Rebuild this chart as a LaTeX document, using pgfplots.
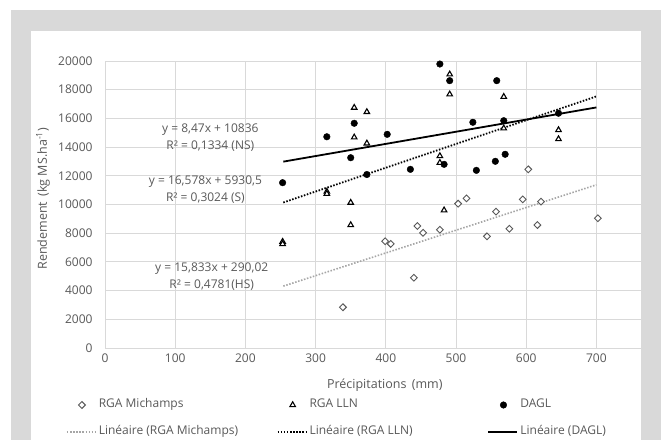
\documentclass[border=0pt]{standalone}
\usepackage{fontspec}
\setmainfont{Open Sans}
\usepackage{pgfplots}
\pgfplotsset{compat=1.18}
\definecolor{framegray}{HTML}{D9D9D9}
\definecolor{gridgray}{HTML}{D9D9D9}
\definecolor{txt}{HTML}{595959}
\definecolor{mich}{HTML}{595959}
\definecolor{michline}{HTML}{A6A6A6}

\pgfplotsset{
  mlegend/.style={legend image code/.code={\draw[mark repeat=2,mark phase=2,##1] plot coordinates {(0pt,0pt)(15pt,0pt)(29pt,0pt)};}},
  llegend/.style={legend image code/.code={\draw[##1] (0pt,0pt) -- (29pt,0pt);}},
}

\begin{document}
\begin{tikzpicture}[x=1pt,y=1pt]
\fill[framegray] (11,0) rectangle (661,430);
\fill[white] (31,0) rectangle (641,409);
\useasboundingbox (0,0) rectangle (661,440);
\begin{axis}[
  at={(105pt,92pt)}, anchor=south west,
  scale only axis, width=536pt, height=287pt,
  xmin=0, xmax=763.5, ymin=0, ymax=20000,
  xtick={0,100,...,700}, ytick={0,2000,...,20000},
  scaled y ticks=false, scaled x ticks=false,
  grid=major, major grid style={draw=gridgray, line width=0.9pt},
  axis line style={draw=none}, tick style={draw=none},
  clip=false,
  /pgf/number format/assume math mode=true,
  /pgf/number format/set thousands separator={},
  ticklabel style={font=\fontsize{12}{14}\selectfont, text=txt},
  yticklabel style={xshift=-9pt},
  xticklabel style={yshift=-2pt},
  xlabel={Précipitations\, (mm)},
  ylabel={Rendement\, (kg MS.ha\textsuperscript{-1})},
  every axis x label/.style={at={(axis description cs:0.522,0)}, anchor=center, yshift=-37pt, font=\fontsize{12.5}{14}\selectfont, text=txt},
  every axis y label/.style={at={(axis description cs:-0.1157,0.52)}, rotate=90, anchor=center, font=\fontsize{12.5}{14}\selectfont, text=txt},
  legend columns=3,
  legend cell align=left,
  legend style={at={(axis description cs:-0.0728,-0.170)}, anchor=north west,
    draw=none, fill=none, inner sep=0pt, column sep=0pt, row sep=11pt,
    font=\fontsize{12}{14}\selectfont, text=txt,
    nodes={inner sep=2pt, text height=9pt, text depth=3pt}},
]
% RGA Michamps
\addplot[only marks, mlegend, mark=square*, mark size=2.4pt,
  mark options={rotate=45, fill=white, draw=mich, line width=0.9pt}]
  coordinates {(339,2840) (399,7440) (407,7250) (440,4900) (445,8500) (453,8030)
  (477,8240) (503,10060) (515,10430) (544,7780) (557,9500) (576,8310)
  (595,10360) (603,12450) (616,8570) (621,10200) (702,9040)};
\addlegendentry{\makebox[176pt][l]{RGA Michamps}}
% RGA LLN
\addplot[only marks, mlegend, mark=triangle*, mark size=3.2pt,
  mark options={fill=white, draw=black, line width=1.1pt}]
  coordinates {(253,7410) (253,7250) (316,10900) (316,10750) (350,10130) (350,8570)
  (355,16750) (355,14680) (373,16450) (373,14260) (477,13380) (477,12910)
  (483,9600) (491,19070) (491,17680) (568,17510) (568,15310) (646,15190) (646,14560)};
\addlegendentry{\makebox[176pt][l]{RGA LLN}}
% DAGL
\addplot[only marks, mlegend, mark=*, mark size=3.3pt, mark options={fill=black, draw=black}]
  coordinates {(253,11520) (316,14720) (350,13260) (355,15660) (373,12090) (402,14890)
  (435,12450) (477,19790) (483,12800) (491,18630) (524,15730) (529,12380)
  (556,13010) (558,18630) (568,15840) (570,13500) (646,16360)};
\addlegendentry{\makebox[176pt][l]{DAGL}}
% trend lines
\addplot[llegend, michline, line width=1.6pt, dash pattern=on 1.5pt off 1.6pt]
  coordinates {(254,4312) (700,11373)};
\addlegendentry{\makebox[176pt][l]{Linéaire (RGA Michamps)}}
\addplot[llegend, black, line width=1.8pt, dash pattern=on 1.5pt off 1.6pt]
  coordinates {(254,10141) (700,17535)};
\addlegendentry{\makebox[176pt][l]{Linéaire (RGA LLN)}}
\addplot[llegend, black, line width=1.8pt]
  coordinates {(254,12987) (700,16765)};
\addlegendentry{\makebox[176pt][l]{Linéaire (DAGL)}}

\node[align=center, text=txt, font=\fontsize{12}{17}\selectfont] at (axis cs:150,14670)
  {y = 8,47x + 10836\\R² = 0,1334 (NS)};
\node[align=center, text=txt, font=\fontsize{12}{17}\selectfont] at (axis cs:143,11010)
  {y = 16,578x + 5930,5\\R² = 0,3024 (S)};
\node[align=center, text=txt, font=\fontsize{12}{17}\selectfont] at (axis cs:152,4970)
  {y = 15,833x + 290,02\\R² = 0,4781(HS)};
\end{axis}
\end{tikzpicture}
\end{document}
